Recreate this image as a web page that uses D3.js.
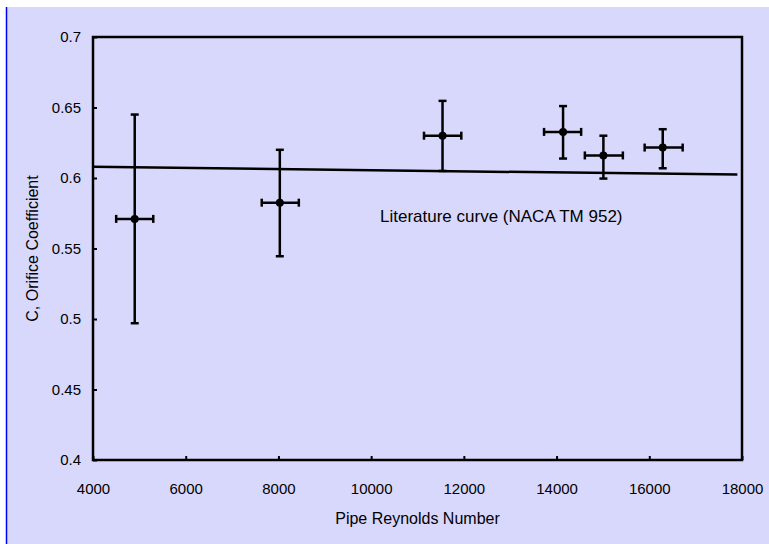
<!DOCTYPE html>
<html lang="en">
<head>
    <meta charset="UTF-8">
    <title>Orifice coefficient</title>
    <script src="https://d3js.org/d3.v7.min.js"></script>
</head>
<style>
    body {
        margin: 0;
        background: white;
    }
    svg {
        display: block;
        font-family: "Liberation Sans", Arial, sans-serif;
    }
</style>
<body>
    <div id="chart"></div>
</body>
<script>
    // measured points: Re, C and the error ranges
    const reynolds = [4900, 8030, 11540, 14140, 15010, 16290]
    const coeff = [0.571, 0.5825, 0.630, 0.6327, 0.616, 0.6216]
    const reLow = [4500, 7640, 11140, 13730, 14610, 15900]
    const reHigh = [5300, 8440, 11945, 14530, 15430, 16720]
    const cLow = [0.497, 0.5445, 0.605, 0.6138, 0.5996, 0.6069]
    const cHigh = [0.645, 0.620, 0.6547, 0.651, 0.630, 0.6346]
    // literature curve (NACA TM 952)
    const litRe = [4000, 17900]
    const litC = [0.6079, 0.6024]
    const xTicks = [4000, 6000, 8000, 10000, 12000, 14000, 16000, 18000]
    const yTicks = [0.4, 0.45, 0.5, 0.55, 0.6, 0.65, 0.7]

    const W = 769, H = 544
    const margin = {top: 37, right: 27, bottom: 84, left: 93}
    const svg = d3.select("#chart").append("svg")
        .attr("width", W).attr("height", H)

    svg.append("rect")
        .attr("x", 7).attr("y", 7)
        .attr("width", W - 7).attr("height", H - 7)
        .attr("fill", "#d8d8fd")
    svg.append("line")
        .attr("x1", 6.5).attr("x2", 6.5)
        .attr("y1", 7).attr("y2", H)
        .attr("stroke", "#0000ff").attr("stroke-width", 1.5)

    const x = d3.scaleLinear().domain([4000, 18000])
        .range([margin.left, W - margin.right])
    const y = d3.scaleLinear().domain([0.4, 0.7])
        .range([H - margin.bottom, margin.top])

    const xAxis = svg.append("g")
        .attr("transform", `translate(0,${H - margin.bottom})`)
        .call(d3.axisBottom(x).tickValues(xTicks).tickSizeInner(-4).tickSizeOuter(0).tickPadding(23)
            .tickFormat(d3.format("d")))
    const yAxis = svg.append("g")
        .attr("transform", `translate(${margin.left},0)`)
        .call(d3.axisLeft(y).tickValues(yTicks).tickSizeInner(-4).tickSizeOuter(0).tickPadding(12)
            .tickFormat(d => String(+d.toFixed(2))))
    for (const ax of [xAxis, yAxis]) {
        ax.select(".domain").remove()
        ax.selectAll(".tick line").attr("stroke", "black").attr("stroke-width", 2)
        ax.selectAll(".tick text").attr("font-size", 15).attr("fill", "black")
            .attr("font-family", "Liberation Sans, Arial, sans-serif")
    }

    // plot frame
    svg.append("rect")
        .attr("x", margin.left).attr("y", margin.top)
        .attr("width", W - margin.left - margin.right)
        .attr("height", H - margin.top - margin.bottom)
        .attr("fill", "none").attr("stroke", "black").attr("stroke-width", 2.5)

    svg.append("path")
        .datum(litRe.map((r, i) => [r, litC[i]]))
        .attr("fill", "none").attr("stroke", "black").attr("stroke-width", 2.5)
        .attr("d", d3.line().x(d => x(d[0])).y(d => y(d[1])))

    const pts = reynolds.map((r, i) => ({r, c: coeff[i], r0: reLow[i], r1: reHigh[i], c0: cLow[i], c1: cHigh[i]}))
    const g = svg.append("g").attr("stroke", "black").attr("stroke-width", 2.5)
    const cap = 4
    pts.forEach(p => {
        g.append("line").attr("x1", x(p.r)).attr("x2", x(p.r)).attr("y1", y(p.c0)).attr("y2", y(p.c1))
        g.append("line").attr("x1", x(p.r0)).attr("x2", x(p.r1)).attr("y1", y(p.c)).attr("y2", y(p.c))
        g.append("line").attr("x1", x(p.r) - cap).attr("x2", x(p.r) + cap).attr("y1", y(p.c0)).attr("y2", y(p.c0))
        g.append("line").attr("x1", x(p.r) - cap).attr("x2", x(p.r) + cap).attr("y1", y(p.c1)).attr("y2", y(p.c1))
        g.append("line").attr("x1", x(p.r0)).attr("x2", x(p.r0)).attr("y1", y(p.c) - cap).attr("y2", y(p.c) + cap)
        g.append("line").attr("x1", x(p.r1)).attr("x2", x(p.r1)).attr("y1", y(p.c) - cap).attr("y2", y(p.c) + cap)
    })
    svg.append("g").selectAll("circle").data(pts).enter()
        .append("circle")
        .attr("cx", d => x(d.r)).attr("cy", d => y(d.c))
        .attr("r", 4).attr("fill", "black")

    svg.append("text")
        .attr("x", 380).attr("y", 222)
        .attr("font-size", 17).text("Literature curve (NACA TM 952)")

    svg.append("text")
        .attr("x", (margin.left + W - margin.right) / 2).attr("y", 524)
        .attr("text-anchor", "middle").attr("font-size", 16)
        .text("Pipe Reynolds Number")
    svg.append("text")
        .attr("transform", `translate(38,${(margin.top + H - margin.bottom) / 2}) rotate(-90)`)
        .attr("text-anchor", "middle").attr("font-size", 16)
        .text("C, Orifice Coefficient")
</script>
</html>
